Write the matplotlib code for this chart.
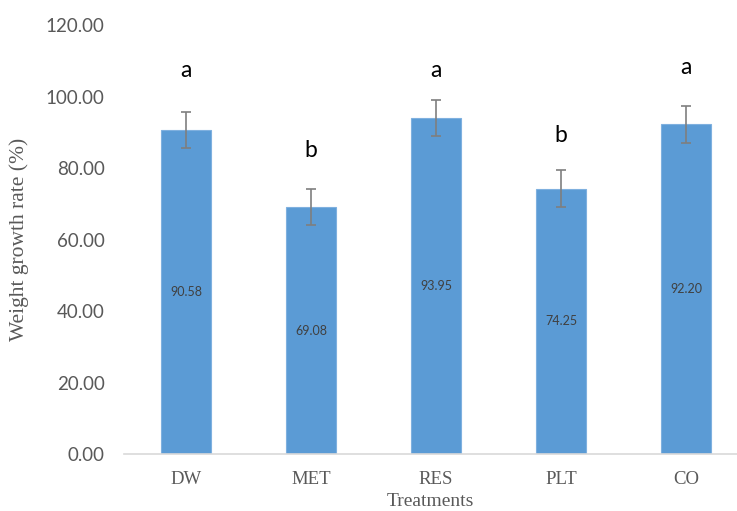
import matplotlib.pyplot as plt
import numpy as np

treatments = ["DW", "MET", "RES", "PLT", "CO"]
growth_rate = [90.58, 69.08, 93.95, 74.25, 92.20]
std_err = [5.1, 5.1, 5.1, 5.1, 5.1]
groups = ["a", "b", "a", "b", "a"]
group_label_y = [107.4, 85.0, 107.4, 89.2, 108.2]
y_ticks = [0, 20, 40, 60, 80, 100, 120]

fig = plt.figure(figsize=(7.37, 5.11), dpi=100)
ax = fig.add_axes([124 / 737, 57 / 511, 1 - 124 / 737, 429 / 511])

x = np.arange(len(treatments))
ax.bar(x, growth_rate, width=0.4, color="#5B9BD5", edgecolor="#7FB0DF",
       linewidth=0.8, zorder=2)
ax.errorbar(x, growth_rate, yerr=std_err, fmt="none", ecolor="#7F7F7F",
            elinewidth=1.2, capsize=3.5, capthick=1.2, zorder=3)

# mean values in the middle of each bar
for xi, v in zip(x, growth_rate):
    ax.text(xi, v / 2, f"{v:.2f}", ha="center", va="center", fontsize=9,
            color="#404040", family="Lato")

# significance letters
for xi, ly, g in zip(x, group_label_y, groups):
    ax.text(xi, ly, g, ha="center", va="center", fontsize=16.5,
            color="black", family="Lato")

ax.set_xlim(-0.496, 4.408)
ax.set_ylim(0, 120)
ax.set_yticks(y_ticks)
ax.set_yticklabels([f"{t:.2f}" for t in y_ticks], family="Lato",
                   fontsize=13.5, color="#595959")
ax.set_xticks(x)
ax.set_xticklabels(treatments, family="Liberation Serif", fontsize=13.5,
                   color="#595959")
ax.tick_params(axis="both", length=0)
ax.tick_params(axis="y", pad=14)
ax.tick_params(axis="x", pad=12)

for side in ["top", "right", "left"]:
    ax.spines[side].set_visible(False)
ax.spines["bottom"].set_color("#D9D9D9")
ax.spines["bottom"].set_linewidth(1.2)

ax.set_xlabel("Treatments", family="Liberation Serif", fontsize=14,
              color="#595959", labelpad=4)
ax.set_ylabel("Weight growth rate (%)", family="Liberation Serif", fontsize=15.5,
              color="#595959", labelpad=12)

fig.savefig("out.png", dpi=100)
